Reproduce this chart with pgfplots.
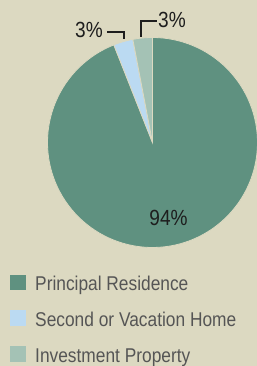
\documentclass[border=0pt]{standalone}
\usepackage{pgfplots}
\pgfplotsset{compat=1.18}
\usepackage{pgfplotstable}
\usepackage{fontspec}
\setmainfont{Liberation Sans}[FakeStretch=0.87]
\definecolor{bg}{HTML}{DCD9C1}
\definecolor{cPrin}{HTML}{5F9180}
\definecolor{cSec}{HTML}{BBDAF2}
\definecolor{cInv}{HTML}{A4C2B5}
\definecolor{txt}{HTML}{555555}
\definecolor{lbl}{HTML}{1E1E1E}

\pgfplotstableread{
label value
Principal 94
Second 3
Investment 3
}\shares

\begin{document}
\begin{tikzpicture}[x=1bp,y=1bp]
\pgfplotstablegetelem{0}{value}\of\shares \let\vP\pgfplotsretval
\pgfplotstablegetelem{1}{value}\of\shares \let\vS\pgfplotsretval
\pgfplotstablegetelem{2}{value}\of\shares \let\vI\pgfplotsretval
\pgfmathsetmacro\aI{90+3.6*\vI}
\pgfmathsetmacro\aS{\aI+3.6*\vS}
\pgfmathsetmacro\aP{\aS+3.6*\vP}
\clip (0,0) rectangle (257,366);
\fill[bg] (0,0) rectangle (257,366);
\begin{axis}[at={(0,0)}, anchor=origin, scale only axis, width=257bp, height=366bp,
  xmin=0, xmax=257, ymin=0, ymax=366, hide axis, clip=false]
\addplot[fill=cPrin, draw=bg, line width=0.8bp, domain=\aS:\aP, samples=120, variable=\t]
  ({152.5+105*cos(\t)},{223.5+105*sin(\t)}) -- (axis cs:152.5,223.5) -- cycle;
\addplot[fill=cSec, draw=bg, line width=0.8bp, domain=\aI:\aS, samples=10, variable=\t]
  ({152.5+105*cos(\t)},{223.5+105*sin(\t)}) -- (axis cs:152.5,223.5) -- cycle;
\addplot[fill=cInv, draw=bg, line width=0.8bp, domain=90:\aI, samples=10, variable=\t]
  ({152.5+105*cos(\t)},{223.5+105*sin(\t)}) -- (axis cs:152.5,223.5) -- cycle;

% slice labels
\node[anchor=base east, inner sep=0, text=lbl, font=\fontsize{22}{26}\selectfont] at (axis cs:103,328) {3\%};
\draw[lbl, line width=1.3bp] (axis cs:107,334) -- (axis cs:124,334) -- (axis cs:124,327);
\node[anchor=base west, inner sep=0, text=lbl, font=\fontsize{22}{26}\selectfont] at (axis cs:158,338) {3\%};
\draw[lbl, line width=1.3bp] (axis cs:141,329) -- (axis cs:141,345) -- (axis cs:157,345);
\node[anchor=base, inner sep=0, text=lbl, font=\fontsize{22}{26}\selectfont] at (axis cs:168.5,140) {94\%};

% legend
\fill[cPrin] (axis cs:10,76) rectangle (axis cs:26,91);
\fill[cSec] (axis cs:10,40) rectangle (axis cs:26,56);
\fill[cInv] (axis cs:10,4) rectangle (axis cs:26,20);
\node[anchor=base west, inner sep=0, text=txt, font=\fontsize{20}{24}\selectfont] at (axis cs:35,75.5) {Principal Residence};
\node[anchor=base west, inner sep=0, text=txt, font=\fontsize{20}{24}\selectfont] at (axis cs:35,39.7) {Second or Vacation Home};
\node[anchor=base west, inner sep=0, text=txt, font=\fontsize{20}{24}\selectfont] at (axis cs:35,4) {Investment Property};
\end{axis}
\end{tikzpicture}
\end{document}
